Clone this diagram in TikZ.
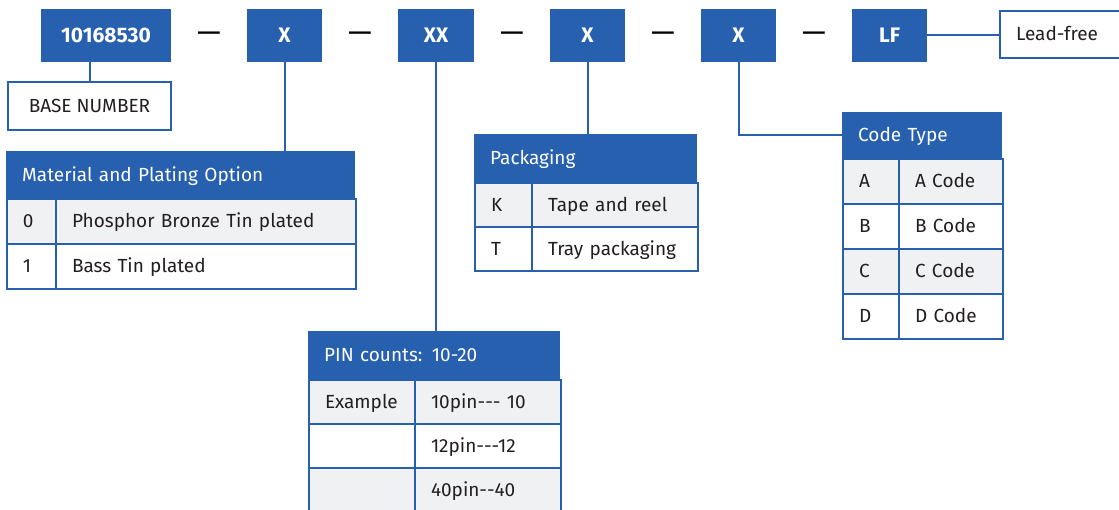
\documentclass[tikz,border=0pt]{standalone}
\usepackage{fontspec}
\setmainfont{Fira Sans}
\usepackage{xcolor}
\usetikzlibrary{positioning}

\definecolor{pnblue}{HTML}{2760AE}
\definecolor{pngray}{HTML}{F0F1F3}
\definecolor{pntext}{HTML}{231F20}

\tikzset{
  partbox/.style={fill=pnblue,text=white,font=\bfseries\fontsize{21}{24}\selectfont,
    minimum height=53pt,minimum width=75pt,inner sep=0pt},
  namebox/.style={draw=pnblue,fill=white,line width=2pt,text=pntext,
    font=\fontsize{19}{22}\selectfont,minimum height=47pt,inner sep=0pt},
  headcell/.style={fill=pnblue,text=white,anchor=north west,align=left,
    inner xsep=16pt,inner ysep=0pt,font=\fontsize{19}{22}\selectfont,
    text height=13pt,text depth=0pt},
  cell/.style={draw=pnblue,line width=2pt,text=pntext,anchor=north west,align=left,
    inner xsep=16pt,inner ysep=0pt,font=\fontsize{19}{22}\selectfont,
    text height=13pt,text depth=0pt},
  dashmark/.style={text=black,font=\fontsize{30}{34}\selectfont,inner sep=0pt},
  link/.style={draw=pnblue,line width=2pt},
}

\begin{document}
\begin{tikzpicture}[x=1pt,y=-1pt]
  \useasboundingbox (0,0) rectangle (1119,510);
  \clip (0,0) rectangle (1119,510);

  % part number
  \node[partbox,minimum width=130pt] (base) at (106,35.5) {10168530};
  \node[partbox] (x1) at (284.5,35.5) {X};
  \node[partbox,minimum width=76pt] (xx) at (436,35.5) {XX};
  \node[partbox] (x2) at (587.5,35.5) {X};
  \node[partbox] (x3) at (738.5,35.5) {X};
  \node[partbox] (lf) at (889.5,35.5) {LF};
  \foreach \x [count=\i] in {209,360,512,663,814}
    \node[dashmark] (dash\i) at (\x,37) {—};

  \node[namebox,minimum width=163pt,minimum height=48pt] (basenum) at (89.5,106) {BASE NUMBER};
  \node[namebox,anchor=west,inner xsep=16pt,text width=99pt,align=left,
    text height=13pt,text depth=0pt] (leadfree) at (999,34.5) {Lead-free};

  % material
  \node[headcell,text width=317pt,minimum height=47pt] (mat) at (6,151) {Material and Plating Option};
  \foreach \k/\desc/\bg [count=\i from 0] in {0/Phosphor Bronze Tin plated/pngray,1/Bass Tin plated/white} {
    \node[cell,fill=\bg,text width=17pt,minimum height=45pt] (mat-k\i) at (6,{198+45*\i}) {\k};
    \node[cell,fill=\bg,text width=268pt,minimum height=45pt] (mat-d\i) at (55,{198+45*\i}) {\desc};
  }

  % packaging
  \node[headcell,text width=191pt,minimum height=48pt] (pack) at (474,134) {Packaging};
  \foreach \k/\desc/\bg [count=\i from 0] in {K/Tape and reel/pngray,T/Tray packaging/white} {
    \node[cell,fill=\bg,text width=25pt,minimum height=44pt] (pack-k\i) at (474,{182+44*\i}) {\k};
    \node[cell,fill=\bg,text width=134pt,minimum height=44pt] (pack-d\i) at (531,{182+44*\i}) {\desc};
  }

  % code type
  \node[headcell,text width=128pt,minimum height=46pt] (code) at (842,112) {Code Type};
  \foreach \k/\bg [count=\i from 0] in {A/pngray,B/white,C/pngray,D/white} {
    \node[cell,fill=\bg,text width=24pt,minimum height=45pt] (code-k\i) at (842,{158+45*\i}) {\k};
    \node[cell,fill=\bg,text width=72pt,minimum height=45pt] (code-d\i) at (898,{158+45*\i}) {\k{} Code};
  }

  % pin counts
  \node[headcell,text width=220pt,minimum height=48pt] (pin) at (308,331) {PIN counts: 10-20};
  \foreach \k/\desc/\bg [count=\i from 0] in {Example/10pin-{}-{}- 10/pngray,/12pin-{}-{}-12/white,/40pin-{}-40/pngray} {
    \node[cell,fill=\bg,text width=74pt,minimum height=44pt] (pin-k\i) at (308,{379+44*\i}) {\k};
    \node[cell,fill=\bg,text width=114pt,minimum height=44pt] (pin-d\i) at (414,{379+44*\i}) {\desc};
  }

  % connectors
  \draw[link] (basenum.north) -- (basenum.north |- base.south);
  \draw[link] (x1.south) -- (x1.south |- mat.north);
  \draw[link] (xx.south) -- (xx.south |- pin.north);
  \draw[link] (x2.south) -- (x2.south |- pack.north);
  \draw[link] (x3.south) |- (code.west);
  \draw[link] (lf.east) -- (lf.east -| leadfree.west);
\end{tikzpicture}
\end{document}
